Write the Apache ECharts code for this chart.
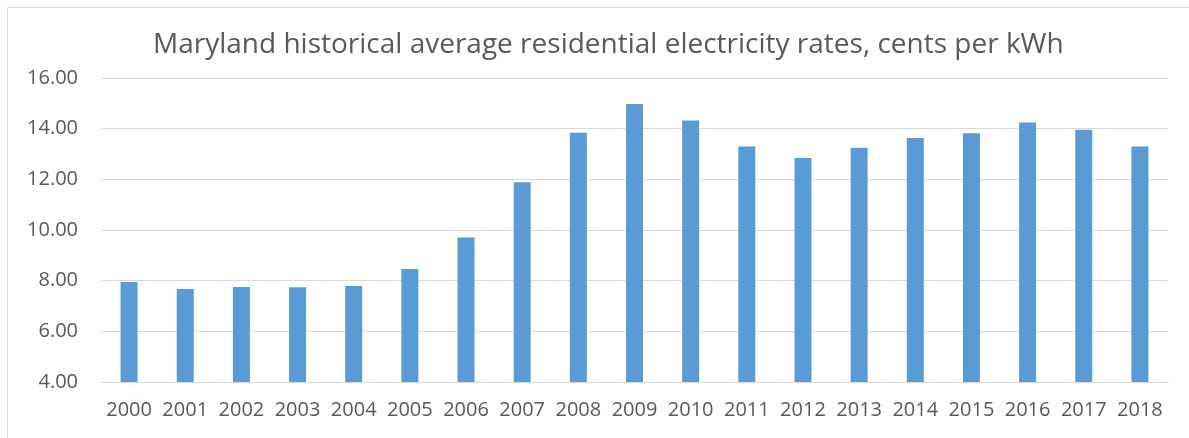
<!DOCTYPE html>
<html>
<head>
<meta charset="utf-8">
<script src="https://cdn.jsdelivr.net/npm/echarts@6/dist/echarts.min.js"></script>
<style>
html, body { margin: 0; padding: 0; background: #fff; }
#main { width: 1189px; height: 438px; }
</style>
</head>
<body>
<div id="main"></div>
<script>
var years = ['2000', '2001', '2002', '2003', '2004', '2005', '2006', '2007', '2008', '2009',
	'2010', '2011', '2012', '2013', '2014', '2015', '2016', '2017', '2018'];
var rates = [7.95, 7.67, 7.75, 7.74, 7.79, 8.46, 9.70, 11.88, 13.84, 14.97,
	14.32, 13.30, 12.84, 13.25, 13.63, 13.82, 14.24, 13.96, 13.30];
var titleText = 'Maryland historical average residential electricity rates, cents per kWh';

var chart = echarts.init(document.getElementById('main'));
var textColor = '#595959';
var font = '"Open Sans", sans-serif';

chart.setOption({
	animation: false,
	graphic: [{
		type: 'rect',
		shape: { x: 7.5, y: 7.5, width: 1200, height: 440 },
		style: { fill: 'none', stroke: '#d9d9d9', lineWidth: 1 }
	}],
	title: {
		text: titleText,
		left: 148,
		top: 26,
		textStyle: { color: textColor, fontSize: 28, fontWeight: 'normal', fontFamily: font }
	},
	grid: { left: 101, right: 21, top: 78, bottom: 56, containLabel: false },
	xAxis: {
		type: 'category',
		data: years,
		axisLine: { show: true, lineStyle: { color: '#d9d9d9' } },
		axisTick: { show: false },
		axisLabel: { color: textColor, fontSize: 20, fontFamily: font, margin: 18, interval: 0 }
	},
	yAxis: {
		type: 'value',
		min: 4,
		max: 16,
		interval: 2,
		axisLine: { show: false },
		axisTick: { show: false },
		splitLine: { lineStyle: { color: '#d9d9d9', width: 1 } },
		axisLabel: {
			color: textColor, fontSize: 20, fontFamily: font, margin: 23,
			formatter: function(v) { return v.toFixed(2); }
		}
	},
	series: [{
		type: 'bar',
		data: rates,
		barWidth: 17,
		itemStyle: { color: '#5B9BD5' }
	}]
});
</script>
</body>
</html>
